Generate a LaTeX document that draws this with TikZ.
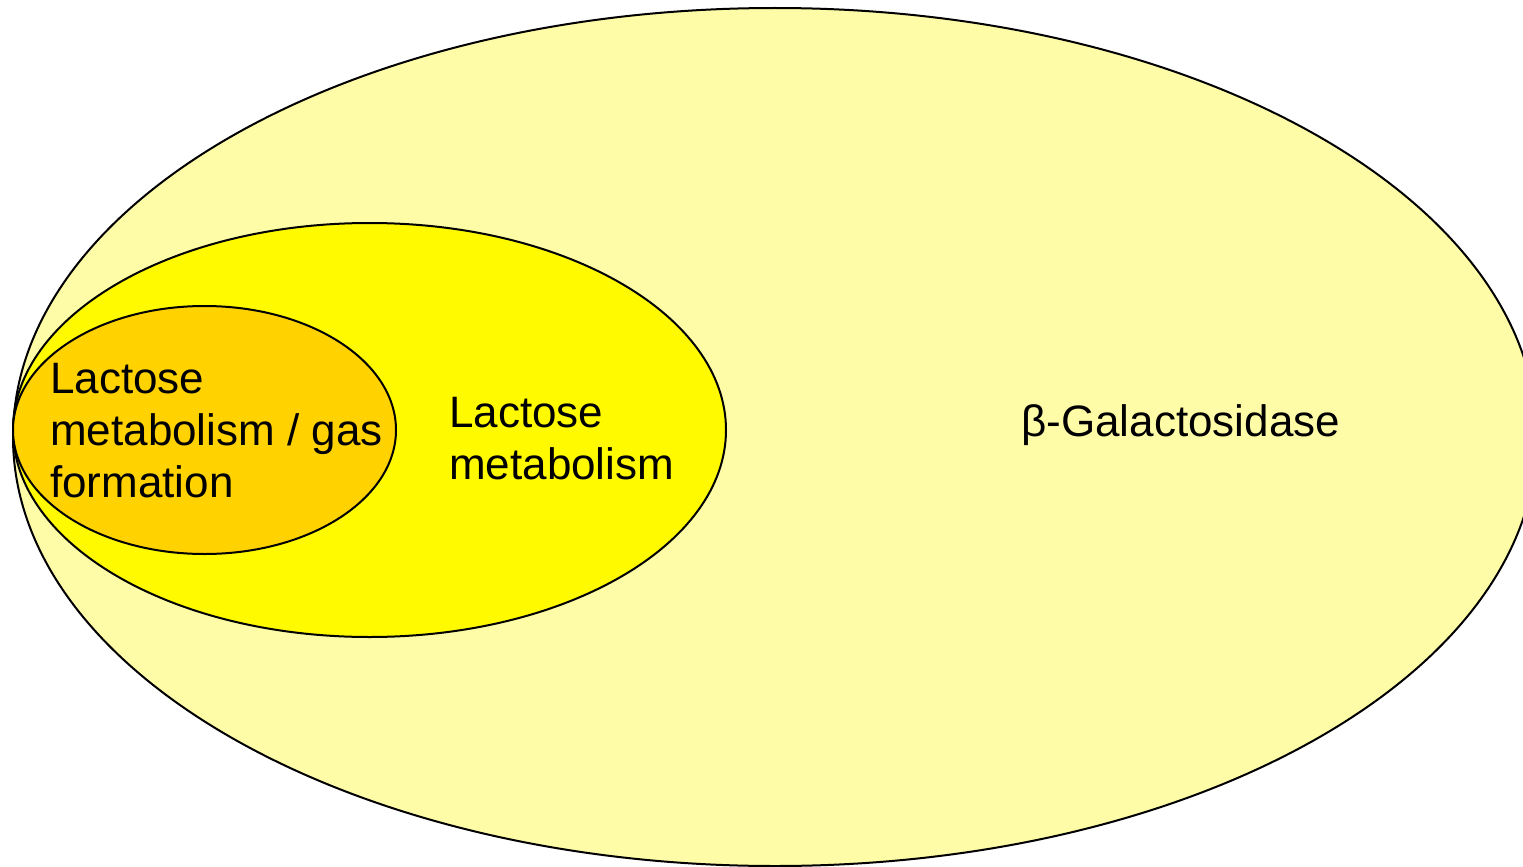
\documentclass[tikz,border=0pt]{standalone}
\usepackage{fontspec}
\setmainfont{Liberation Sans}
\usetikzlibrary{shapes.geometric}
\definecolor{outerfill}{RGB}{255,252,168}
\definecolor{midfill}{RGB}{255,250,0}
\definecolor{innerfill}{RGB}{255,210,0}
\tikzset{
  set/.style={ellipse, draw=black, line width=2pt, inner sep=0pt, outer sep=0pt},
  lbl/.style={anchor=base west, inner sep=0pt, font=\fontsize{44}{52}\selectfont, align=left}
}
\begin{document}
\begin{tikzpicture}[x=1pt,y=-1pt]
\useasboundingbox (0,0) rectangle (1523,867);
\clip (0,0) rectangle (1523,867);
\node[set, fill=outerfill, minimum width=1524pt, minimum height=858pt] (outer) at (775,437) {};
\node[set, fill=midfill, minimum width=713pt, minimum height=414pt] (middle) at (369.5,430) {};
\node[set, fill=innerfill, minimum width=383pt, minimum height=248pt] (inner) at (204.5,430) {};
\node[lbl] (t1a) at (50,393) {Lactose};
\node[lbl] (t1b) at (50,445) {metabolism / gas};
\node[lbl] (t1c) at (50,497) {formation};
\node[lbl] (t2a) at (449,427) {Lactose};
\node[lbl] (t2b) at (449,479) {metabolism};
\node[lbl] (t3) at (1021,436) {β-Galactosidase};
\end{tikzpicture}
\end{document}
